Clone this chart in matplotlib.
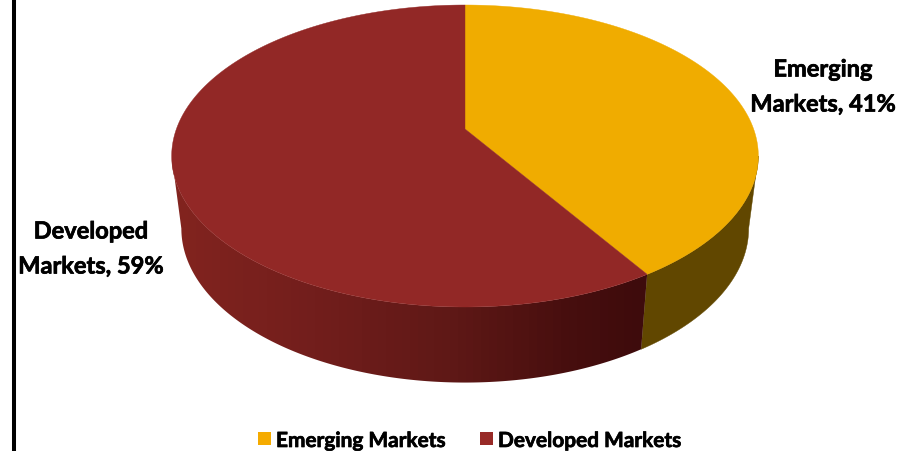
import numpy as np
import matplotlib
matplotlib.use("Agg")
import matplotlib.pyplot as plt
import matplotlib.patheffects as pe
from matplotlib.colors import LinearSegmentedColormap
from matplotlib.patches import Polygon, Rectangle

# Share of each market group
categories = ["Emerging Markets", "Developed Markets"]
shares = [41, 59]

top_colors = ["#F0AC00", "#922826"]
legend_colors = ["#F5AB00", "#982A27"]
wall_emerging = "#614700"
# Developed wall darkens from left to right
wall_developed = LinearSegmentedColormap.from_list(
    "wall", [(0.0, "#82241F"), (0.3, "#721E1C"), (0.6, "#5E1816"), (0.85, "#460E0E"), (1.0, "#3E0B0C")]
)

# Disc geometry in pixels, apex sits above the ellipse centre because of perspective
cx, cy = 465, 130
width, far, near = 288.6, 124, 178
depth = 72
shrink_x, stretch_y = 0.967, 1.02

persp = (near - far) / (near + far)
height = far * (1 + persp)
# Angles where the outline turns back, the wall is hidden past these
right_turn = np.arccos(-persp)
left_turn = 2 * np.pi - right_turn


def top_face(theta):
    # theta runs clockwise from 12 o'clock
    u, v = np.sin(theta), np.cos(theta)
    d = 1 + persp * v
    return cx + width * u / d, cy - height * v / d


def bottom_face(theta):
    x, y = top_face(theta)
    return cx + shrink_x * (x - cx), cy + depth + stretch_y * (y - cy)


def wall_outline(start, stop):
    th = np.linspace(start, stop, 200)
    xt, yt = top_face(th)
    xb, yb = bottom_face(th[::-1])
    return list(zip(xt, yt)) + list(zip(xb, yb))


fig = plt.figure(figsize=(9.12, 4.52), dpi=100)
ax = fig.add_axes([0, 0, 1, 1])

# Left border line
ax.plot([14, 14], [0, 452], color="black", lw=2.9, solid_capstyle="butt")

# Slice limits from the shares
edges = 2 * np.pi * np.cumsum([0] + shares) / sum(shares)

# Side wall: flat for emerging, horizontal gradient clipped to the outline for developed
ax.add_patch(Polygon(wall_outline(right_turn, edges[1]), closed=True,
                     facecolor=wall_emerging, edgecolor=wall_emerging, lw=0.3))
outline = Polygon(wall_outline(edges[1], left_turn), closed=True, facecolor="none", edgecolor="none")
ax.add_patch(outline)
shade = np.linspace(0, 1, 60).reshape(1, -1)
img = ax.imshow(shade, cmap=wall_developed, extent=(172, 648, 390, 150), aspect="auto",
                interpolation="nearest", zorder=1.5)
img.set_clip_path(outline)

# Top of the disc
for i in range(len(shares)):
    th = np.linspace(edges[i], edges[i + 1], 300)
    x, y = top_face(th)
    pts = [(cx, cy)] + list(zip(x, y))
    ax.add_patch(Polygon(pts, closed=True, facecolor=top_colors[i],
                         edgecolor=top_colors[i], lw=0.3, zorder=2))

# Data labels
heavy = [pe.withStroke(linewidth=0.5, foreground="black")]
font = dict(family="Lato", weight="bold", color="black", ha="center", va="center",
            fontsize=17, path_effects=heavy)
ax.text(823, 70, "Emerging", **font)
ax.text(823, 105, f"Markets, {shares[0]}%", **font)
ax.text(91, 232, "Developed", **font)
ax.text(91, 267, f"Markets, {shares[1]}%", **font)

# Legend along the bottom edge
legend_x = [258, 480]
for i, name in enumerate(categories):
    ax.add_patch(Rectangle((legend_x[i], 433), 13, 13, facecolor=legend_colors[i], edgecolor="none"))
    ax.text(legend_x[i] + 18, 442, name, fontsize=15, family="Lato", weight="bold",
            color="black", ha="left", va="center", path_effects=heavy)

ax.set_xlim(0, 912)
ax.set_ylim(452, 0)
ax.axis("off")
ax.set_position([0, 0, 1, 1])

fig.savefig("out.png", dpi=100)
